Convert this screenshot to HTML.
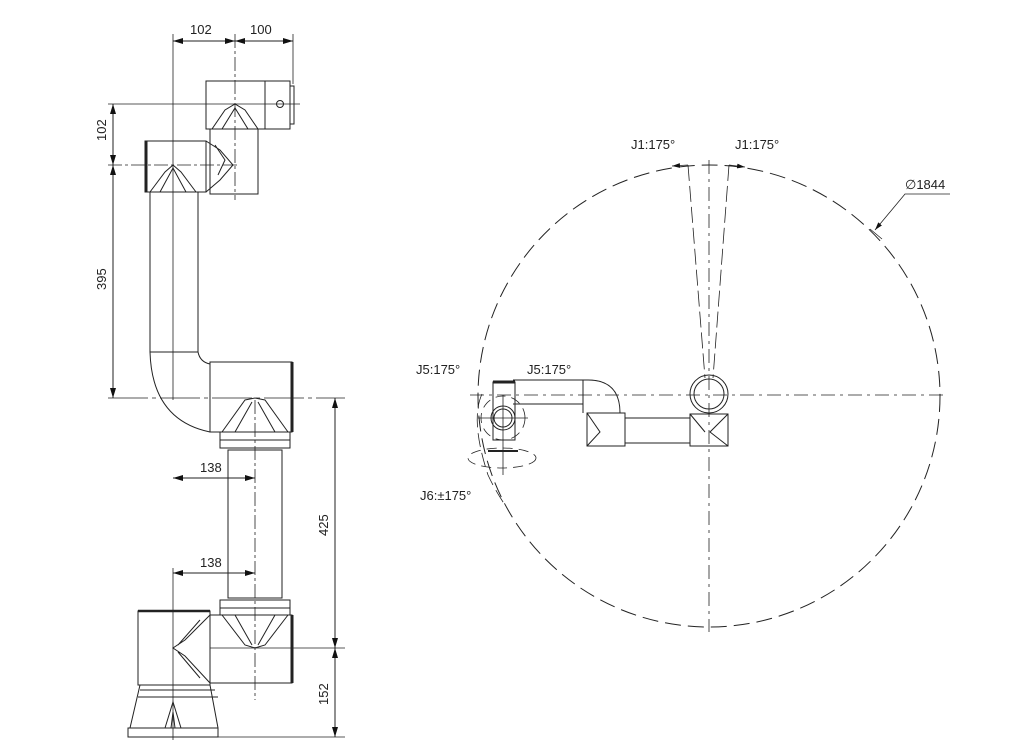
<!DOCTYPE html>
<html><head><meta charset="utf-8"><style>
html,body{margin:0;padding:0;background:#fff}
svg{display:block}
text{font-family:"Liberation Sans",sans-serif;font-size:13px;fill:#222}
</style></head><body>
<svg width="1024" height="756" viewBox="0 0 1024 756" xmlns="http://www.w3.org/2000/svg">
<defs>
<marker id="a" viewBox="0 0 10 6" refX="10" refY="3" markerWidth="10" markerHeight="6" orient="auto-start-reverse"><path d="M0,0L10,3L0,6z" fill="#111"/></marker>
</defs>
<g stroke="#222" stroke-width="1" fill="none">
<!-- dimension lines left -->
<line x1="173" y1="34" x2="173" y2="400" stroke-width="0.8"/>
<line x1="293" y1="34" x2="293" y2="84" stroke-width="0.8"/>
<line x1="235" y1="34" x2="235" y2="200" stroke-dasharray="14,3,3,3" stroke-width="0.8"/>
<line x1="173" y1="41" x2="235" y2="41" marker-start="url(#a)" marker-end="url(#a)"/>
<line x1="235" y1="41" x2="293" y2="41" marker-start="url(#a)" marker-end="url(#a)"/>
<line x1="108" y1="104" x2="300" y2="104" stroke-width="0.8"/>
<line x1="108" y1="165" x2="240" y2="165" stroke-dasharray="14,3,3,3" stroke-width="0.8"/>
<line x1="113" y1="104" x2="113" y2="165" marker-start="url(#a)" marker-end="url(#a)"/>
<line x1="113" y1="165" x2="113" y2="398" marker-start="url(#a)" marker-end="url(#a)"/>
<line x1="108" y1="398" x2="345" y2="398" stroke-dasharray="40,4,4,4" stroke-width="0.8"/>
<line x1="210" y1="648" x2="345" y2="648" stroke-width="0.8"/>
<line x1="128" y1="737" x2="345" y2="737" stroke-width="0.8"/>
<line x1="335" y1="398" x2="335" y2="648" marker-start="url(#a)" marker-end="url(#a)"/>
<line x1="335" y1="648" x2="335" y2="737" marker-start="url(#a)" marker-end="url(#a)"/>
<line x1="173" y1="478" x2="255" y2="478" marker-start="url(#a)" marker-end="url(#a)"/>
<line x1="173" y1="568" x2="173" y2="740" stroke-width="0.8"/>
<line x1="173" y1="573" x2="255" y2="573" marker-start="url(#a)" marker-end="url(#a)"/>
<line x1="255" y1="400" x2="255" y2="700" stroke-dasharray="14,3,3,3" stroke-width="0.8"/>
<!-- top wrist -->
<rect x="206" y="81" width="84" height="48"/>
<line x1="265" y1="81" x2="265" y2="129"/>
<rect x="290" y="86" width="4" height="38"/>
<circle cx="280" cy="104" r="3.5"/>
<path d="M212,129 L225,110 L235,104 L245,110 L258,129 M222,129 L235,108 L248,129"/>
<rect x="210" y="129" width="48" height="65"/>
<!-- second block -->
<rect x="145" y="141" width="61" height="51"/>
<line x1="146" y1="141" x2="146" y2="192" stroke-width="3"/>
<path d="M150,192 L165,172 L173,165 L181,172 L196,192 M160,192 L173,168 L186,192"/>
<path d="M206,141 L220,150 L233,165 L220,180 L206,192 M215,145 L225,160 L218,175"/>
<!-- long tube + elbow -->
<path d="M150,192 L150,352 M198,192 L198,352 Q200,362 210,364"/>
<line x1="150" y1="352" x2="198" y2="352"/>
<path d="M150,352 Q152,420 210,432"/>
<!-- shoulder block -->
<rect x="210" y="362" width="82" height="70"/>
<line x1="292" y1="362" x2="292" y2="432" stroke-width="3"/>
<path d="M222,432 L245,400 L255,398 L265,400 L288,432 M235,432 L252,402 M275,432 L258,402"/>
<path d="M220,432 L220,448 L290,448 L290,432 M220,440 L290,440"/>
<rect x="228" y="450" width="54" height="148"/>
<path d="M220,615 L220,600 L290,600 L290,615 M220,608 L290,608"/>
<!-- elbow block -->
<rect x="210" y="615" width="82" height="68"/>
<line x1="292" y1="615" x2="292" y2="683" stroke-width="3"/>
<path d="M222,615 L245,645 L255,648 L265,645 L288,615 M235,615 L252,645 M275,615 L258,645"/>
<!-- base -->
<rect x="138" y="611" width="72" height="74"/>
<line x1="138" y1="611" x2="210" y2="611" stroke-width="2.5"/>
<path d="M210,615 L185,640 L173,648 L185,656 L210,683 M200,620 L178,645 M200,678 L178,652"/>
<path d="M140,690 L215,690 M138,697 L218,697 M140,685 L130,728 M210,685 L218,728"/>
<rect x="128" y="728" width="90" height="9"/>
<path d="M165,728 L173,702 L181,728 M171,728 L173,712 L175,728"/>
<!-- right: circle -->
<circle cx="709" cy="396" r="231" stroke-dasharray="16,7" stroke-width="1"/>
<line x1="709" y1="160" x2="709" y2="632" stroke-dasharray="14,5,3,5" stroke-width="0.8"/>
<line x1="470" y1="395" x2="945" y2="395" stroke-dasharray="14,5,3,5" stroke-width="0.8"/>
<line x1="688" y1="165" x2="705" y2="378" stroke-dasharray="16,5" stroke-width="0.8"/>
<line x1="729" y1="165" x2="713" y2="378" stroke-dasharray="16,5" stroke-width="0.8"/>
<line x1="688" y1="165" x2="672" y2="166" marker-end="url(#a)" stroke-width="0.8"/>
<line x1="729" y1="165" x2="745" y2="167" marker-end="url(#a)" stroke-width="0.8"/>
<polyline points="950,194 905,194 875,230" stroke-width="0.8" marker-end="url(#a)"/>
<line x1="870" y1="229" x2="882" y2="239" stroke-width="0.8"/>
<!-- right robot -->
<circle cx="709" cy="394" r="19"/>
<circle cx="709" cy="394" r="15"/>
<rect x="690" y="414" width="38" height="32"/>
<path d="M728,414 L710,432 L728,446 M690,414 L705,432"/>
<rect x="625" y="418" width="65" height="25"/>
<path d="M625,416 L625,446 M690,416 L690,446"/>
<rect x="587" y="413" width="38" height="33"/>
<path d="M587,413 L600,432 L587,446"/>
<path d="M583,413 L583,385 L583,380 L588,380 Q620,380 620,413"/>
<path d="M513,380 L588,380 M513,404 L583,404"/>
<rect x="493" y="382" width="22" height="58"/>
<line x1="493" y1="382" x2="515" y2="382" stroke-width="3"/>
<circle cx="503" cy="418" r="12"/>
<circle cx="503" cy="418" r="9"/>
<ellipse cx="503" cy="418" rx="22" ry="22" stroke-dasharray="10,6" stroke-width="0.8"/>
<ellipse cx="502" cy="458" rx="34" ry="10" stroke-dasharray="10,6" stroke-width="0.8"/>
<line x1="503" y1="395" x2="503" y2="475" stroke-width="0.8"/>
<line x1="478" y1="418" x2="528" y2="418" stroke-width="0.8"/>
<path d="M482,394 Q470,420 488,475 Q495,490 505,505" stroke-dasharray="14,6" stroke-width="0.8"/>
<line x1="488" y1="451" x2="518" y2="451" stroke-width="2"/>
</g>
<text x="190" y="34">102</text>
<text x="250" y="34">100</text>
<text transform="translate(106,141) rotate(-90)">102</text>
<text transform="translate(106,290) rotate(-90)">395</text>
<text transform="translate(328,536) rotate(-90)">425</text>
<text transform="translate(328,705) rotate(-90)">152</text>
<text x="200" y="472">138</text>
<text x="200" y="567">138</text>
<text x="631" y="149">J1:175°</text>
<text x="735" y="149">J1:175°</text>
<text x="905" y="189">∅1844</text>
<text x="416" y="374">J5:175°</text>
<text x="527" y="374">J5:175°</text>
<text x="420" y="500">J6:±175°</text>
</svg>
</body></html>
